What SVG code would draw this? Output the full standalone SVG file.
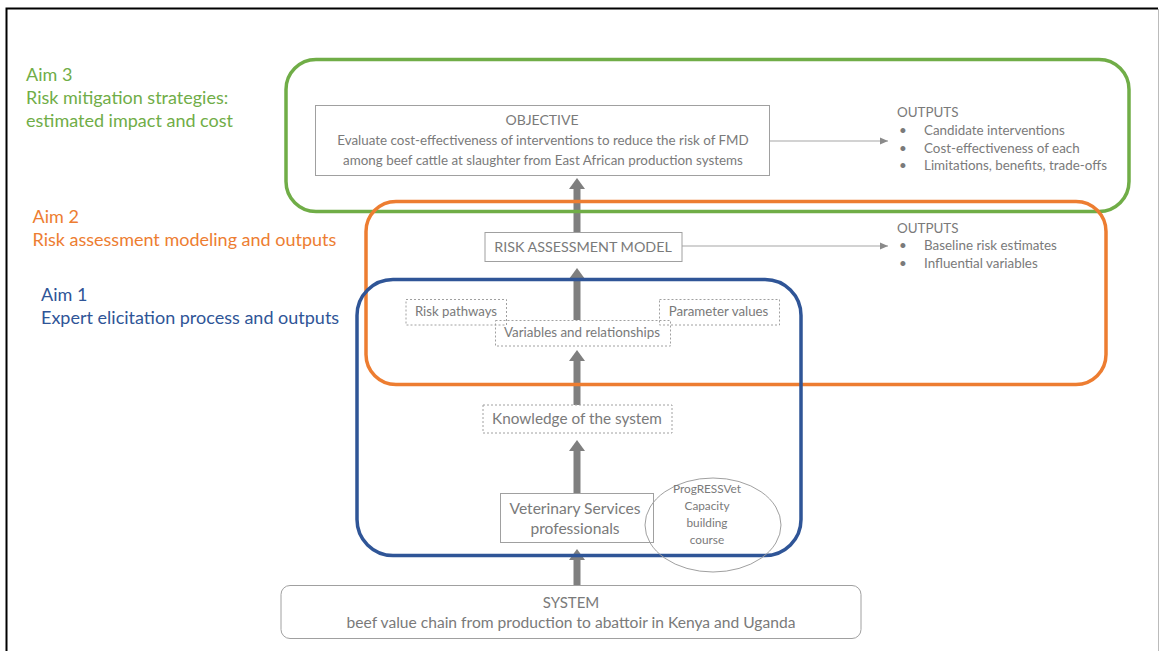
<svg xmlns="http://www.w3.org/2000/svg" width="1160" height="651" viewBox="0 0 1160 651">
<style>
.t{font-family:Lato,"Open Sans","Liberation Sans",sans-serif;fill:#7a7a7a}
.a{font-family:Lato,"Open Sans","Liberation Sans",sans-serif;font-size:18px}
.box{fill:none;stroke:#a0a0a0;stroke-width:1}
.dash{fill:none;stroke:#a0a0a0;stroke-width:1;stroke-dasharray:2 2}
.aim{fill:none;stroke-width:3.5}
.thick{stroke:#7f7f7f;stroke-width:7;fill:none}
.thin{stroke:#a6a6a6;stroke-width:1.2;fill:none}
</style>
<defs>
<marker id="big" viewBox="0 0 11 16" refX="0" refY="8" markerWidth="11" markerHeight="16" markerUnits="userSpaceOnUse" orient="auto"><path d="M0,0 L11,8 L0,16 z" fill="#7f7f7f"/></marker>
<marker id="small" viewBox="0 0 8 8" refX="8" refY="4" markerWidth="8" markerHeight="8" markerUnits="userSpaceOnUse" orient="auto"><path d="M0,0.5 L8,4 L0,7.5 z" fill="#8a8a8a"/></marker>
</defs>
<rect width="1160" height="651" fill="#ffffff"/>
<path d="M6.5,651 V8.5 H1158" fill="none" stroke="#000" stroke-width="2"/>
<line x1="1158.5" y1="9" x2="1158.5" y2="651" stroke="#bbb" stroke-width="1"/>

<g id="connectors">
<line class="thick" x1="577" y1="585" x2="577" y2="560" marker-end="url(#big)"/>
<line class="thick" x1="577" y1="494" x2="577" y2="451" marker-end="url(#big)"/>
<line class="thick" x1="577" y1="405" x2="577" y2="361" marker-end="url(#big)"/>
<line class="thick" x1="577" y1="320" x2="577" y2="279" marker-end="url(#big)"/>
<line class="thick" x1="577" y1="233" x2="577" y2="189" marker-end="url(#big)"/>
<line class="thin" x1="770" y1="141" x2="888" y2="141" marker-end="url(#small)"/>
<line class="thin" x1="682" y1="246" x2="888" y2="246" marker-end="url(#small)"/>
</g>

<g id="aim3">
<rect class="aim" x="286" y="59.5" width="843" height="152" rx="30" stroke="#70ad47"/>
<text class="a" x="26" y="81" fill="#70ad47">Aim 3</text>
<text class="a" x="26" y="104" fill="#70ad47">Risk mitigation strategies:</text>
<text class="a" x="26" y="127" fill="#70ad47">estimated impact and cost</text>
</g>
<g id="aim2">
<rect class="aim" x="366" y="201.5" width="740" height="183" rx="30" stroke="#ed7d31"/>
<text class="a" x="32.5" y="223" fill="#ed7d31">Aim 2</text>
<text class="a" x="32.5" y="246" fill="#ed7d31">Risk assessment modeling and outputs</text>
</g>
<g id="aim1">
<rect class="aim" x="357" y="279.5" width="444" height="276" rx="36" stroke="#2f5597"/>
<text class="a" x="41" y="301" fill="#2f5597">Aim 1</text>
<text class="a" x="41" y="324" fill="#2f5597">Expert elicitation process and outputs</text>
</g>

<g id="objective">
<rect class="box" x="315.5" y="105.5" width="454" height="70"/>
<text class="t" x="542" y="125" font-size="14" text-anchor="middle">OBJECTIVE</text>
<text class="t" x="543" y="145" font-size="13.4" text-anchor="middle">Evaluate cost-effectiveness of interventions to reduce the risk of FMD</text>
<text class="t" x="543" y="165" font-size="13.4" text-anchor="middle">among beef cattle at slaughter from East African production systems</text>
</g>

<g id="outputs3" class="t" font-size="13.4">
<text x="897" y="117">OUTPUTS</text>
<text x="899" y="135">•</text><text x="924" y="135">Candidate interventions</text>
<text x="899" y="152.5">•</text><text x="924" y="152.5">Cost-effectiveness of each</text>
<text x="899" y="170">•</text><text x="924" y="170">Limitations, benefits, trade-offs</text>
</g>

<g id="ram">
<rect class="box" x="485" y="232.5" width="197" height="29"/>
<text class="t" x="583" y="252" font-size="14.3" text-anchor="middle">RISK ASSESSMENT MODEL</text>
</g>

<g id="outputs2" class="t" font-size="13.4">
<text x="897" y="232.5">OUTPUTS</text>
<text x="899" y="250">•</text><text x="924" y="250">Baseline risk estimates</text>
<text x="899" y="267.5">•</text><text x="924" y="267.5">Influential variables</text>
</g>

<g id="risk-pathways">
<rect class="dash" x="406" y="299.5" width="100.5" height="25.5"/>
<text class="t" x="456" y="316" font-size="13.2" text-anchor="middle">Risk pathways</text>
</g>
<g id="parameter-values">
<rect class="dash" x="659.5" y="299.5" width="120" height="25.5"/>
<text class="t" x="718.5" y="316" font-size="13.3" text-anchor="middle">Parameter values</text>
</g>
<g id="variables">
<rect class="dash" x="495.5" y="320.5" width="175" height="25.5"/>
<text class="t" x="582" y="337" font-size="13.4" text-anchor="middle">Variables and relationships</text>
</g>

<g id="knowledge">
<rect class="dash" x="483" y="405" width="189" height="28"/>
<text class="t" x="577" y="424" font-size="15.3" text-anchor="middle">Knowledge of the system</text>
</g>

<g id="vet">
<rect class="box" x="500.5" y="493.5" width="153" height="49"/>
<text class="t" x="575" y="514" font-size="15.6" text-anchor="middle">Veterinary Services</text>
<text class="t" x="575" y="534" font-size="15.6" text-anchor="middle">professionals</text>
</g>

<g id="progressvet">
<ellipse cx="713" cy="525" rx="68" ry="47" fill="none" stroke="#a0a0a0" stroke-width="1"/>
<text class="t" x="707" y="493" font-size="11.8" text-anchor="middle">ProgRESSVet</text>
<text class="t" x="707" y="510" font-size="11.8" text-anchor="middle">Capacity</text>
<text class="t" x="707" y="527" font-size="11.8" text-anchor="middle">building</text>
<text class="t" x="707" y="544" font-size="11.8" text-anchor="middle">course</text>
</g>

<g id="system">
<rect class="box" x="281" y="585.5" width="580" height="53" rx="9"/>
<text class="t" x="571" y="608" font-size="15" text-anchor="middle">SYSTEM</text>
<text class="t" x="571" y="628" font-size="15.6" text-anchor="middle">beef value chain from production to abattoir in Kenya and Uganda</text>
</g>
</svg>
